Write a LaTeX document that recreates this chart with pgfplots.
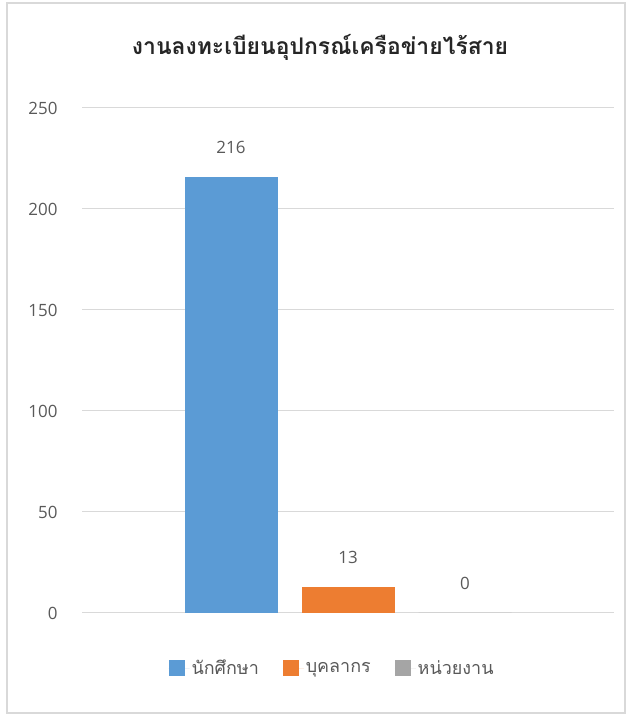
\documentclass[border=0pt]{standalone}
\usepackage{fontspec}
\setmainfont{Open Sans}
\newfontfamily\thaifont[Script=Thai]{Loma}
\usepackage{pgfplots}
\pgfplotsset{compat=1.18}
\definecolor{cblue}{HTML}{5B9BD5}
\definecolor{corange}{HTML}{ED7D31}
\definecolor{cgray}{HTML}{A5A5A5}
\definecolor{gridc}{HTML}{D9D9D9}
\definecolor{txt}{HTML}{595959}
\begin{document}
\begin{tikzpicture}[x=1bp,y=1bp]
\useasboundingbox (0,0) rectangle (629,717);
\draw[draw=gridc, line width=1.5bp] (7,4) rectangle (625,714);
\node[font=\thaifont\bfseries\fontsize{23}{27}\selectfont, text=black!85] at (320,670) {งานลงทะเบียนอุปกรณ์เครือข่ายไร้สาย};
\begin{axis}[
  at={(82bp,104bp)}, anchor=south west,
  width=532bp, height=505bp, scale only axis,
  xmin=-0.5, xmax=0.5, ymin=0, ymax=250,
  ytick={0,50,...,250}, xtick=\empty,
  axis line style={draw=none}, major tick length=0pt,
  ymajorgrids, grid style={gridc, line width=1bp},
  /pgf/number format/assume math mode=true,
  yticklabel style={font=\fontsize{17}{20}\selectfont, text=txt, xshift=-21bp},
  ybar=24bp, bar width=93bp,
  nodes near coords,
  every node near coord/.append style={font=\fontsize{17}{20}\selectfont, text=txt, anchor=south, inner sep=0pt, yshift=23bp},
  legend columns=3,
  legend style={at={(0.47,-0.109)}, anchor=center, draw=none, font=\thaifont\fontsize{18}{21}\selectfont, text=txt,
    /tikz/every even column/.append style={column sep=22bp}},
  legend image code/.code={\draw[#1, draw=none] (0bp,-8bp) rectangle (16bp,8bp); \path (0bp,0bp) -- (21bp,0bp);},
]
\addplot[fill=cblue, draw=none] coordinates {(0,216)};
\addplot[fill=corange, draw=none] coordinates {(0,13)};
\addplot[fill=cgray, draw=none] coordinates {(0,0)};
\legend{นักศึกษา, บุคลากร, หน่วยงาน}
\end{axis}
\end{tikzpicture}
\end{document}
